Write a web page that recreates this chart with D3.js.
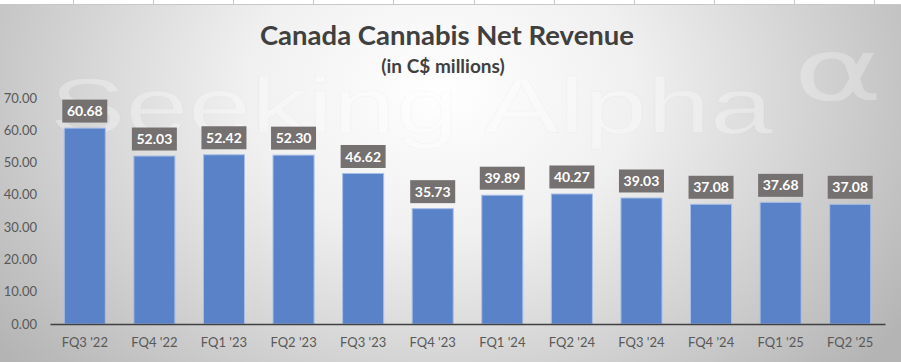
<!DOCTYPE html>
<html>
<head>
<meta charset="utf-8">
<script src="https://cdn.jsdelivr.net/npm/d3@7"></script>
<style>
  html, body { margin: 0; padding: 0; background: #fff; }
  svg { display: block; }
</style>
</head>
<body>
<div id="chart"></div>
<script>
// 数据
const categories = ["FQ3 '22", "FQ4 '22", "FQ1 '23", "FQ2 '23", "FQ3 '23", "FQ4 '23",
                    "FQ1 '24", "FQ2 '24", "FQ3 '24", "FQ4 '24", "FQ1 '25", "FQ2 '25"];
const revenue = [60.68, 52.03, 52.42, 52.30, 46.62, 35.73, 39.89, 40.27, 39.03, 37.08, 37.68, 37.08];
const yTicks = [0, 10, 20, 30, 40, 50, 60, 70];
const titleText = "Canada Cannabis Net Revenue";
const subtitleText = "(in C$ millions)";

const W = 901, H = 362;
const font = "Lato, 'Open Sans', sans-serif";

const svg = d3.select('#chart').append('svg')
    .attr('width', W)
    .attr('height', H);

// 背景渐变
const defs = svg.append('defs');
const grad = defs.append('radialGradient')
    .attr('id', 'bg')
    .attr('gradientUnits', 'userSpaceOnUse')
    .attr('cx', 440).attr('cy', 90).attr('r', 560)
    .attr('gradientTransform', 'translate(440,90) scale(1,0.75) translate(-440,-90)');
grad.append('stop').attr('offset', '0%').attr('stop-color', '#ffffff');
grad.append('stop').attr('offset', '35%').attr('stop-color', '#f0f0f0');
grad.append('stop').attr('offset', '100%').attr('stop-color', '#b4b4b4');

svg.append('rect').attr('width', W).attr('height', H).attr('fill', 'url(#bg)');

// 顶部表格线
const sheet = svg.append('g');
sheet.append('rect').attr('x', 0).attr('y', 0).attr('width', W).attr('height', 4).attr('fill', '#fff');
sheet.append('line').attr('x1', 0).attr('x2', W).attr('y1', 4.5).attr('y2', 4.5)
    .attr('stroke', '#c8c8c8');
d3.range(73, W, 80.1).forEach(x => {
    sheet.append('line').attr('x1', Math.round(x) + 0.5).attr('x2', Math.round(x) + 0.5)
        .attr('y1', 0).attr('y2', 4).attr('stroke', '#c8c8c8');
});

// 水印（很淡，横向拉宽）
const wm = svg.append('g').attr('pointer-events', 'none');
wm.append('text')
    .attr('transform', 'translate(50,133) scale(1.45,1)')
    .attr('font-family', "'Liberation Sans', Arial, sans-serif")
    .attr('font-size', 78)
    .attr('fill', '#ffffff')
    .attr('fill-opacity', 0.3)
    .attr('stroke', '#000000')
    .attr('stroke-opacity', 0.02)
    .text('Seeking Alpha');
wm.append('text')
    .attr('x', 793).attr('y', 100)
    .attr('font-family', "'DejaVu Sans', sans-serif")
    .attr('font-size', 85)
    .attr('textLength', 90)
    .attr('lengthAdjust', 'spacingAndGlyphs')
    .attr('fill', '#ffffff')
    .attr('fill-opacity', 0.28)
    .text('α');

// 标题
svg.append('text')
    .attr('x', 447).attr('y', 45)
    .attr('text-anchor', 'middle')
    .attr('font-family', font)
    .attr('font-weight', 'bold')
    .attr('font-size', 27.5)
    .attr('fill', '#404040')
    .text(titleText);
svg.append('text')
    .attr('x', 443).attr('y', 73)
    .attr('text-anchor', 'middle')
    .attr('font-family', font)
    .attr('font-weight', 'bold')
    .attr('font-size', 19)
    .attr('fill', '#404040')
    .text(subtitleText);

// 比例尺
const x = d3.scaleBand().domain(categories).range([50, 885]).paddingInner(0.41).paddingOuter(0.205);
const y = d3.scaleLinear().domain([0, 70]).range([324, 98]);

// Y 轴标签
svg.append('g')
    .selectAll('text')
    .data(yTicks)
    .enter().append('text')
    .attr('x', 37)
    .attr('y', d => y(d))
    .attr('dy', '0.35em')
    .attr('text-anchor', 'end')
    .attr('font-family', font)
    .attr('font-size', 13)
    .attr('fill', '#595959')
    .text(d3.format('.2f'));

// 柱子
svg.append('g')
    .selectAll('rect')
    .data(revenue)
    .enter().append('rect')
    .attr('x', (d, i) => x(categories[i]))
    .attr('y', d => y(d))
    .attr('width', x.bandwidth())
    .attr('height', d => y(0) - y(d))
    .attr('fill', '#5a82c9')
    .attr('stroke', '#a8bfe6')
    .attr('stroke-width', 1);

// X 轴
const xAxis = svg.append('g')
    .attr('transform', `translate(0,${y(0)})`)
    .call(d3.axisBottom(x).tickSize(0).tickPadding(14));
xAxis.select('.domain').attr('stroke', '#404040').attr('stroke-width', 1.5);
xAxis.selectAll('text')
    .attr('font-family', font)
    .attr('font-size', 13)
    .attr('fill', '#595959');

// 数据标签
const lbl = svg.append('g')
    .selectAll('g')
    .data(revenue)
    .enter().append('g')
    .attr('transform', (d, i) => `translate(${x(categories[i]) + x.bandwidth() / 2},${y(d) - 17})`);
lbl.append('rect')
    .attr('x', -22.5).attr('y', -11.5)
    .attr('width', 45).attr('height', 23)
    .attr('fill', '#767171');
lbl.append('text')
    .attr('text-anchor', 'middle')
    .attr('dy', '0.36em')
    .attr('font-family', font)
    .attr('font-weight', 'bold')
    .attr('font-size', 14)
    .attr('fill', '#ffffff')
    .text(d3.format('.2f'));
</script>
</body>
</html>
